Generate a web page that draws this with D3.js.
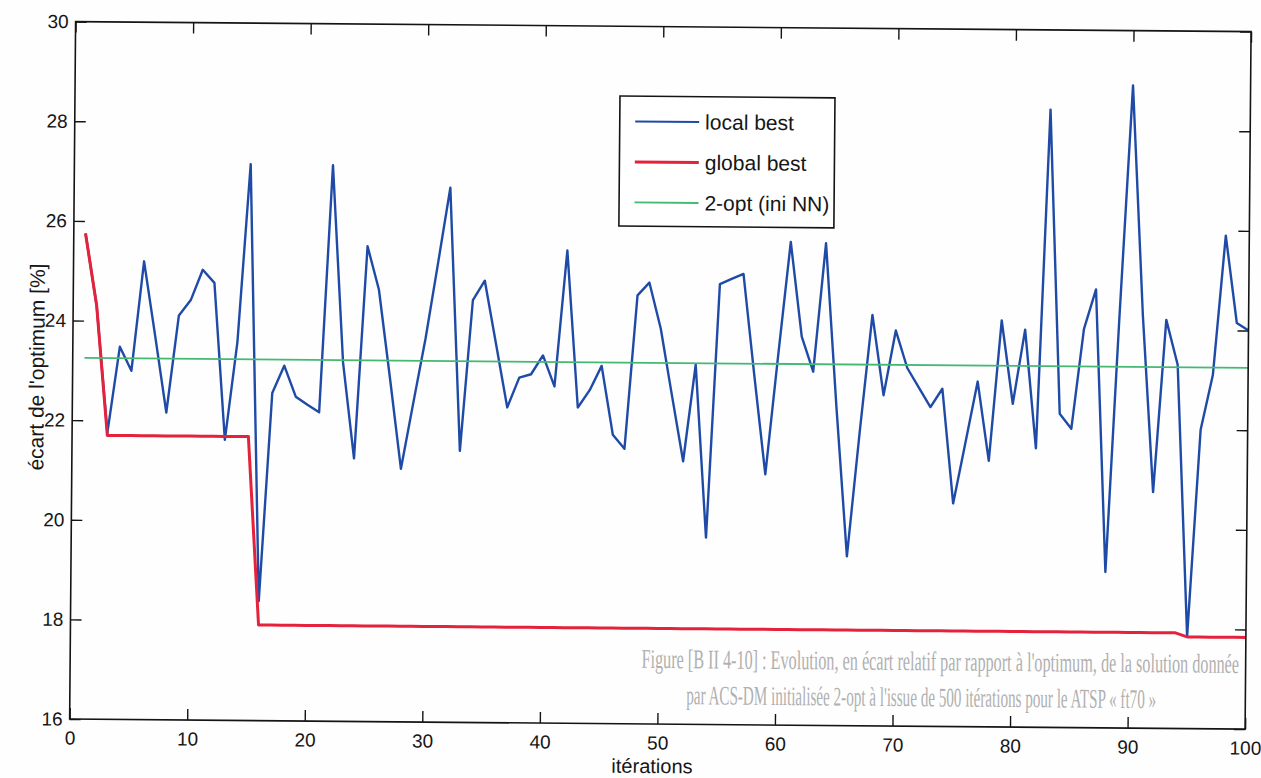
<!DOCTYPE html>
<html>
<head>
<meta charset="utf-8">
<script src="https://d3js.org/d3.v7.min.js"></script>
<style>
    body { margin: 0; background: #fefefe; }
    svg { display: block; font-family: "Liberation Sans", Arial, Helvetica, sans-serif; }
    .frame { fill: none; stroke: #141414; stroke-width: 1.6; }
    .axis line { stroke: #141414; stroke-width: 1.4; }
    .axis text { fill: #161616; font-size: 19px; }
    .axisLabel { fill: #161616; font-size: 21px; }
    .ghost { fill: #b0b0b0; font-family: "Liberation Serif", "DejaVu Serif", serif; font-size: 27px; }
    .legendBox { fill: #fff; stroke: #141414; stroke-width: 1.6; }
    .legendText { fill: #161616; font-size: 21px; }
</style>
</head>
<body>
<script>
//wrap everything in a self-executing anonymous function
(function(){

    //local best deviation per iteration (1..100)
    var localBest = [25.75, 24.3, 21.75, 23.48, 23.0, 25.2, 23.7, 22.17, 24.12, 24.43,
                     25.04, 24.78, 21.63, 23.6, 27.17, 18.4, 22.58, 23.13, 22.51, 22.35,
                     22.2, 27.16, 23.2, 21.28, 25.54, 24.67, 22.9, 21.08, 22.4, 23.7,
                     25.2, 26.73, 21.45, 24.48, 24.87, 23.6, 22.33, 22.93, 23.0, 23.38,
                     22.76, 25.49, 22.34, 22.69, 23.18, 21.8, 21.52, 24.6, 24.86, 23.94,
                     22.6, 21.28, 23.22, 19.75, 24.84, 24.95, 25.05, 23.0, 21.03, 23.4,
                     25.7, 23.8, 23.1, 25.68, 22.4, 19.4, 21.9, 24.25, 22.64, 23.94,
                     23.19, 22.8, 22.41, 22.78, 20.48, 21.7, 22.93, 21.34, 24.16, 22.49,
                     23.98, 21.6, 28.4, 22.3, 22.0, 24.0, 24.8, 19.13, 24.2, 28.9,
                     24.3, 20.74, 24.2, 23.3, 17.85, 22.0, 23.1, 25.9, 24.15, 24.0];

    //global best deviation per iteration (1..100)
    var globalBest = [25.75, 24.3, 21.7, 21.7, 21.7, 21.7, 21.7, 21.7, 21.7, 21.7,
                      21.7, 21.7, 21.7, 21.7, 21.7, 17.92, 17.92, 17.92, 17.92, 17.92,
                      17.92, 17.92, 17.92, 17.92, 17.92, 17.92, 17.92, 17.92, 17.92, 17.92,
                      17.92, 17.92, 17.92, 17.92, 17.92, 17.92, 17.92, 17.92, 17.92, 17.92,
                      17.92, 17.92, 17.92, 17.92, 17.92, 17.92, 17.92, 17.92, 17.92, 17.92,
                      17.92, 17.92, 17.92, 17.92, 17.92, 17.92, 17.92, 17.92, 17.92, 17.92,
                      17.92, 17.92, 17.92, 17.92, 17.92, 17.92, 17.92, 17.92, 17.92, 17.92,
                      17.92, 17.92, 17.92, 17.92, 17.92, 17.92, 17.92, 17.92, 17.92, 17.92,
                      17.92, 17.92, 17.92, 17.92, 17.92, 17.92, 17.92, 17.92, 17.92, 17.92,
                      17.92, 17.92, 17.92, 17.92, 17.84, 17.84, 17.84, 17.84, 17.84, 17.84];

    //2-opt (NN init) reference level, constant over the run
    var twoOptLevel = 23.25;
    var twoOptRange = [1, 100];

    var xTicks = [0, 10, 20, 30, 40, 50, 60, 70, 80, 90, 100];
    var yTicks = [16, 18, 20, 22, 24, 26, 28, 30];
    var seriesNames = ["local best", "global best", "2-opt (ini NN)"];
    var seriesColors = ["#1f4ba7", "#e4223c", "#45b874"];

    //faint caption showing through from the scanned page
    var ghostLines = ["Figure [B II 4-10] : Evolution, en écart relatif par rapport à l'optimum, de la solution donnée",
                      "par ACS-DM initialisée 2-opt à l'issue de 500 itérations pour le ATSP « ft70 »"];
    var ghostWidths = [598, 470];

    window.onload = setChart();

    function setChart(){

        //frame dimensions
        var width = 1261,
            height = 778,
            left = 72.6,
            top = 26.6,
            innerWidth = 1175.5,
            innerHeight = 697.5,
            bottom = top + innerHeight,
            right = left + innerWidth;

        var svg = d3.select("body")
            .append("svg")
            .attr("width", width)
            .attr("height", height);

        svg.append("rect")
            .attr("width", width)
            .attr("height", height)
            .attr("fill", "#fefefe");

        //the scan is tilted a little, so everything sits in one rotated group
        var chart = svg.append("g")
            .attr("transform", "rotate(0.49, 660.4, 375.4)");

        var x = d3.scaleLinear()
            .domain([0, 100])
            .range([left, right]);

        var y = d3.scaleLinear()
            .domain([16, 30])
            .range([bottom, top]);

        //ghost caption behind the plot, squeezed horizontally like the scan
        chart.selectAll(".ghost")
            .data(ghostLines)
            .enter()
            .append("text")
            .attr("class", "ghost")
            .text(function(d){ return d; })
            .attr("transform", function(d, i){
                var len = this.getComputedTextLength();
                var tx = i == 0 ? 644 : 689,
                    ty = i == 0 ? 668 : 704;
                return "translate(" + tx + "," + ty + ") scale(" + (ghostWidths[i] / len) + ",1)";
            });

        //bottom axis with labels, ticks pointing inward
        chart.append("g")
            .attr("class", "axis")
            .attr("transform", "translate(0," + bottom + ")")
            .call(d3.axisBottom(x).tickValues(xTicks).tickSize(-11).tickSizeOuter(0).tickPadding(12));

        chart.append("g")
            .attr("class", "axis")
            .attr("transform", "translate(" + left + ",0)")
            .call(d3.axisLeft(y).tickValues(yTicks).tickSize(-11).tickSizeOuter(0).tickPadding(7));

        //top and right ticks (box on, no labels)
        chart.append("g")
            .attr("class", "axis")
            .attr("transform", "translate(0," + top + ")")
            .call(d3.axisTop(x).tickValues(xTicks).tickSize(-11).tickSizeOuter(0).tickFormat(""));

        chart.append("g")
            .attr("class", "axis")
            .attr("transform", "translate(" + right + ",0)")
            .call(d3.axisRight(y).tickValues(yTicks).tickSize(-11).tickSizeOuter(0).tickFormat(""));

        chart.selectAll(".axis .domain").remove();
        chart.selectAll(".axis")
            .attr("font-family", null)
            .attr("font-size", null);

        //series lines
        var line = d3.line()
            .x(function(d, i){ return x(i + 1); })
            .y(function(d){ return y(d); });

        chart.append("path")
            .datum(localBest)
            .attr("class", "localBest")
            .attr("fill", "none")
            .attr("stroke", seriesColors[0])
            .attr("stroke-width", 2.4)
            .attr("stroke-linejoin", "round")
            .attr("d", line);

        chart.append("path")
            .datum(globalBest)
            .attr("class", "globalBest")
            .attr("fill", "none")
            .attr("stroke", seriesColors[1])
            .attr("stroke-width", 3)
            .attr("stroke-linejoin", "round")
            .attr("d", line);

        chart.append("line")
            .attr("class", "twoOpt")
            .attr("x1", x(twoOptRange[0]))
            .attr("x2", x(twoOptRange[1]))
            .attr("y1", y(twoOptLevel))
            .attr("y2", y(twoOptLevel))
            .attr("stroke", seriesColors[2])
            .attr("stroke-width", 1.8);

        //box around the plot area
        chart.append("rect")
            .attr("class", "frame")
            .attr("x", left)
            .attr("y", top)
            .attr("width", innerWidth)
            .attr("height", innerHeight);

        //axis titles
        chart.append("text")
            .attr("class", "axisLabel")
            .attr("x", (left + right) / 2 - 5)
            .attr("y", bottom + 49)
            .attr("text-anchor", "middle")
            .style("font-size", "20px")
            .text("itérations");

        chart.append("text")
            .attr("class", "axisLabel")
            .attr("transform", "translate(44," + (top + innerHeight / 2 - 3) + ") rotate(-90)")
            .attr("text-anchor", "middle")
            .text("écart de l'optimum [%]");

        //legend
        var legend = chart.append("g")
            .attr("class", "legend");

        legend.append("rect")
            .attr("class", "legendBox")
            .attr("x", 617.6)
            .attr("y", 96.4)
            .attr("width", 215)
            .attr("height", 130);

        var rows = legend.selectAll(".legendRow")
            .data(seriesNames)
            .enter()
            .append("g")
            .attr("class", "legendRow")
            .attr("transform", function(d, i){
                return "translate(0," + (121.7 + i * 40.5) + ")";
            });

        rows.append("line")
            .attr("x1", 633)
            .attr("x2", 697)
            .attr("stroke", function(d, i){ return seriesColors[i]; })
            .attr("stroke-width", function(d, i){ return i == 1 ? 3 : (i == 0 ? 2 : 1.8); });

        rows.append("text")
            .attr("class", "legendText")
            .attr("x", 703)
            .attr("dy", "0.35em")
            .text(function(d){ return d; });
    };
})();
</script>
</body>
</html>
